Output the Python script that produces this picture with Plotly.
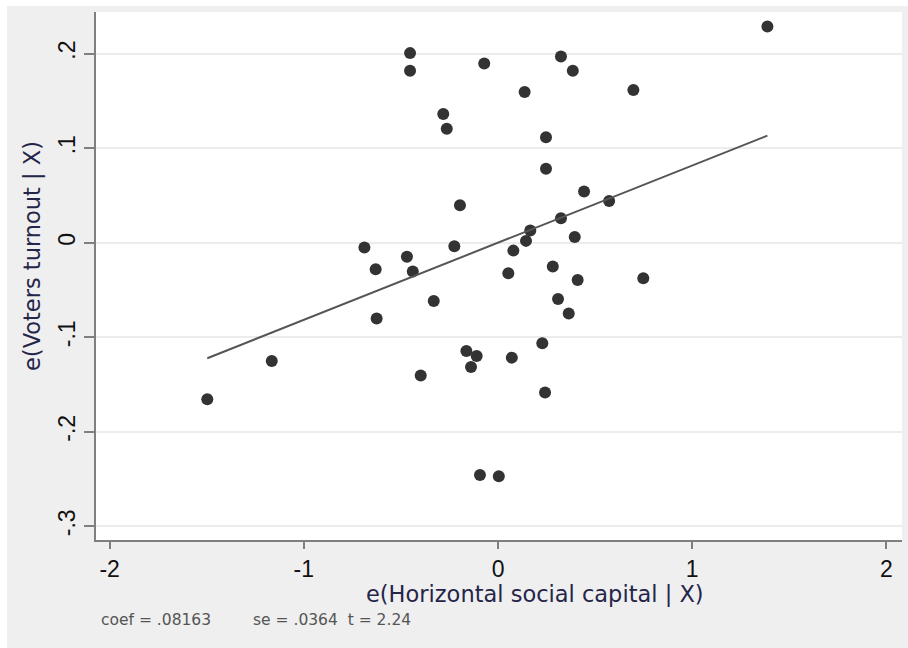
import plotly.graph_objects as go

# Added-variable plot: residuals of voter turnout vs. residuals of horizontal social capital
resid_social_capital = [
    1.387, -0.453, -0.453, -0.071, 0.324, 0.385, 0.137, 0.697, -0.282, -0.264,
    0.247, 0.247, 0.443, 0.572, -0.196, 0.324, 0.166, 0.144, 0.395, -0.688,
    -0.225, 0.079, -0.469, -0.630, -0.439, 0.053, 0.282, 0.410, 0.748, -0.331,
    -0.625, 0.309, 0.364, -0.163, -0.110, -0.139, 0.071, 0.228, -0.398, -1.165,
    -1.497, 0.242, -0.093, 0.004,
]
resid_turnout = [
    0.2287, 0.2005, 0.1818, 0.1895, 0.1969, 0.1818, 0.1593, 0.1614, 0.1360, 0.1204,
    0.1116, 0.0781, 0.0541, 0.0442, 0.0397, 0.0259, 0.0128, 0.0019, 0.0061, -0.0052,
    -0.0037, -0.0084, -0.0150, -0.0280, -0.0306, -0.0323, -0.0253, -0.0394, -0.0376, -0.0616,
    -0.0803, -0.0595, -0.0750, -0.1145, -0.1198, -0.1314, -0.1216, -0.1063, -0.1406, -0.1251,
    -0.1656, -0.1586, -0.2457, -0.2471,
]

COEF = 0.08163
SE = 0.0364
T_STAT = 2.24

x_tick_vals = [-2, -1, 0, 1, 2]
x_tick_text = ["-2", "-1", "0", "1", "2"]
y_tick_vals = [-0.3, -0.2, -0.1, 0, 0.1, 0.2]
y_tick_text = ["-.3", "-.2", "-.1", "0", ".1", ".2"]

# fitted line through the origin with the estimated slope
x_line = [min(resid_social_capital), max(resid_social_capital)]
y_line = [COEF * v for v in x_line]

fig = go.Figure()
fig.add_trace(go.Scatter(
    x=resid_social_capital, y=resid_turnout, mode="markers",
    marker=dict(size=12, color="#333333", line=dict(width=0)),
    hoverinfo="x+y", showlegend=False,
))
fig.add_trace(go.Scatter(
    x=x_line, y=y_line, mode="lines",
    line=dict(color="#555555", width=2),
    hoverinfo="skip", showlegend=False,
))

tick_font = dict(family="Liberation Sans, Arial, sans-serif", size=23, color="#111111")
title_font = dict(family="DejaVu Sans, Verdana, sans-serif", size=22.5, color="#25254a")
note_font = dict(family="DejaVu Sans, Verdana, sans-serif", size=15.5, color="#555555")

fig.update_layout(
    width=908, height=648,
    margin=dict(l=96, r=6, t=12, b=108),
    paper_bgcolor="white",
    plot_bgcolor="white",
    xaxis=dict(
        range=[-2.07, 2.08],
        tickvals=x_tick_vals, ticktext=x_tick_text,
        showgrid=False, zeroline=False,
        showline=True, linecolor="#7f7f7f", linewidth=2,
        ticks="outside", ticklen=7, tickwidth=1.5, tickcolor="#7f7f7f",
        tickfont=tick_font,
    ),
    yaxis=dict(
        range=[-0.3145, 0.244],
        tickvals=y_tick_vals, ticktext=y_tick_text,
        tickangle=-90,
        showgrid=True, gridcolor="#ececec", gridwidth=2,
        zeroline=False,
        showline=True, linecolor="#7f7f7f", linewidth=2,
        ticks="outside", ticklen=10, tickwidth=1.5, tickcolor="#7f7f7f",
        tickfont=tick_font,
    ),
    shapes=[
        # light grey graph region behind the plot area
        dict(type="rect", xref="paper", yref="paper",
             x0=-0.1104, x1=1.02, y0=-0.21, y1=1.0114,
             fillcolor="#efefef", line=dict(width=0), layer="below"),
        dict(type="rect", xref="paper", yref="paper",
             x0=0, x1=1, y0=0, y1=1,
             fillcolor="white", line=dict(width=0), layer="below"),
    ],
    annotations=[
        dict(text="e(Horizontal social capital | X)", xref="paper", yref="paper",
             x=0.5447, y=-0.1023, xanchor="center", yanchor="middle",
             showarrow=False, font=title_font),
        dict(text="e(Voters turnout | X)", xref="paper", yref="paper",
             x=-0.0794, y=0.5379, xanchor="center", yanchor="middle",
             textangle=-90, showarrow=False, font=title_font),
        dict(text=f"coef = {COEF:.5f}".replace("0.", "."), xref="paper", yref="paper",
             x=0.0037, y=-0.1515, xanchor="left", yanchor="middle",
             showarrow=False, font=note_font),
        dict(text=f"se = {SE:.4f}".replace("0.", ".") + f"  t = {T_STAT:.2f}",
             xref="paper", yref="paper",
             x=0.1923, y=-0.1515, xanchor="left", yanchor="middle",
             showarrow=False, font=note_font),
    ],
)

fig.write_html("out.html")
